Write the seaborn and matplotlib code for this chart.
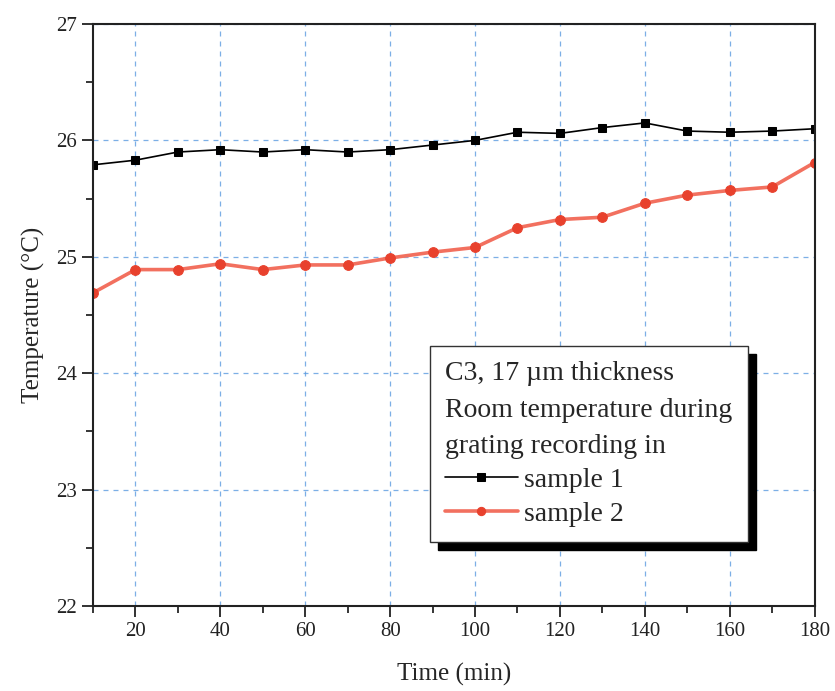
import matplotlib
matplotlib.use("Agg")
import matplotlib.pyplot as plt
import seaborn as sns
from matplotlib.ticker import MultipleLocator

# data
time_min = [10, 20, 30, 40, 50, 60, 70, 80, 90, 100, 110, 120, 130, 140, 150, 160, 170, 180]
sample1 = [25.79, 25.83, 25.90, 25.92, 25.90, 25.92, 25.90, 25.92, 25.96, 26.00,
           26.07, 26.06, 26.11, 26.15, 26.08, 26.07, 26.08, 26.10]
sample2 = [24.69, 24.89, 24.89, 24.94, 24.89, 24.93, 24.93, 24.99, 25.04, 25.08,
           25.25, 25.32, 25.34, 25.46, 25.53, 25.57, 25.60, 25.81]
legend_title = "C3, 17 \u00b5m thickness\nRoom temperature during\ngrating recording in"

sns.set_style("ticks")
plt.rcParams['font.family'] = ['Liberation Serif', 'DejaVu Serif']

fig = plt.figure(figsize=(8.35, 6.91), dpi=100)
ax = fig.add_axes([0.1114, 0.123, 0.8642, 0.8423])

sns.lineplot(x=time_min, y=sample1, ax=ax, color='black', linewidth=1.2,
             marker='s', markersize=6, markeredgecolor='black', label='sample 1')
sns.lineplot(x=time_min, y=sample2, ax=ax, color='#f2705f', linewidth=2.6,
             marker='o', markersize=7, markerfacecolor='#e8412d',
             markeredgecolor='#e8412d', label='sample 2')

ax.set_xlim(10, 180)
ax.set_ylim(22, 27)
ax.xaxis.set_major_locator(MultipleLocator(20))
ax.xaxis.set_minor_locator(MultipleLocator(10))
ax.yaxis.set_major_locator(MultipleLocator(1))
ax.yaxis.set_minor_locator(MultipleLocator(0.5))
ax.tick_params(which='major', direction='out', length=8, width=1.3, labelsize=15, colors='#222222')
ax.tick_params(which='minor', direction='out', length=5, width=1.3)
ax.grid(True, which='major', color='#5b9be0', linestyle=(0, (4, 4)), linewidth=0.9, alpha=0.8)
for s in ax.spines.values():
    s.set_linewidth(1.5)
    s.set_color('#222222')

ax.set_xlabel("Time (min)", fontsize=18, labelpad=16)
ax.set_ylabel("Temperature (\u00b0C)", fontsize=18, labelpad=8)

leg = ax.legend(title=legend_title, loc='lower left', bbox_to_anchor=(0.467, 0.11),
                borderaxespad=0, fancybox=False, fontsize=20, title_fontsize=20,
                alignment='left', handlelength=2.6, handletextpad=0.25,
                labelspacing=0.3, borderpad=0.55, edgecolor='#333333',
                framealpha=1, markerscale=0.85,
                shadow={'ox': 6, 'oy': -6, 'color': 'black', 'alpha': 1})
leg.get_frame().set_linewidth(1.0)
leg.get_title().set_linespacing(1.6)

fig.savefig("out.png", dpi=100)
